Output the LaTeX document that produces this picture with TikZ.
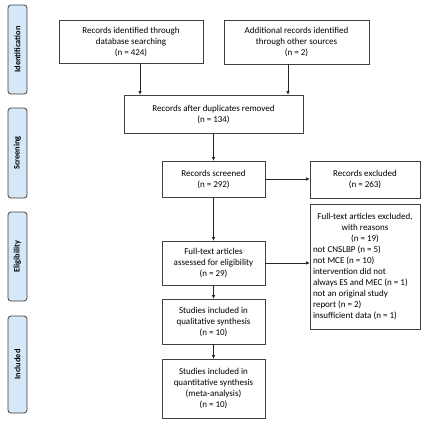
\documentclass[tikz,border=0pt]{standalone}
\usepackage{fontspec}
\setmainfont{Carlito}
\usetikzlibrary{arrows.meta}
\definecolor{phase}{HTML}{D4E8F8}
\definecolor{boxline}{HTML}{404040}
\begin{document}
\begin{tikzpicture}[x=1pt,y=-1pt,
  box/.style={draw=boxline,line width=0.8pt,fill=white,align=center,font=\fontsize{9}{11}\selectfont,inner sep=2pt},
  phasebox/.style={draw=boxline,line width=0.8pt,fill=phase,rounded corners=3pt,minimum width=19pt,font=\bfseries\fontsize{8.4}{9}\selectfont},
  arr/.style={-{Triangle[length=3.5pt,width=3pt]},line width=0.7pt,draw=black!85}]
\useasboundingbox (0,0) rectangle (438,423);
% phase labels
\node[phasebox,minimum height=89pt] (pid) at (17.5,49.5) {\rotatebox{90}{Identification}};
\node[phasebox,minimum height=90pt] (psc) at (17.5,153) {\rotatebox{90}{Screening}};
\node[phasebox,minimum height=89pt] (pel) at (17.5,256.5) {\rotatebox{90}{Eligibility}};
\node[phasebox,minimum height=97pt] (pin) at (17.5,364.5) {\rotatebox{90}{Included}};
% boxes
\node[box,minimum width=144pt,minimum height=43pt] (b1) at (131,41.5) {Records identified through\\database searching\\(n = 424)};
\node[box,minimum width=145pt,minimum height=44pt] (b2) at (296.5,42) {Additional records identified\\through other sources\\(n = 2)};
\node[box,minimum width=179pt,minimum height=38pt] (b3) at (213.5,114) {Records after duplicates removed\\(n = 134)};
\node[box,minimum width=103pt,minimum height=36pt] (b4) at (213.5,179) {Records screened\\(n = 292)};
\node[box,minimum width=110pt,minimum height=37pt] (b5) at (365,179.5) {Records excluded\\(n = 263)};
\node[box,minimum width=103pt,minimum height=44pt] (b6) at (213.5,263) {Full-text articles\\assessed for eligibility\\(n = 29)};
\node[box,minimum width=110pt,minimum height=125pt] (b7) at (365,266.5) {\begin{minipage}{104pt}\centering Full-text articles excluded,\\with reasons\\(n = 19)\par\raggedright not CNSLBP (n = 5)\\not MCE (n = 10)\\intervention did not\\always ES and MEC (n = 1)\\not an original study\\report (n = 2)\\insufficient data (n = 1)\end{minipage}};
\node[box,minimum width=103pt,minimum height=45pt] (b8) at (213.5,321.5) {Studies included in\\qualitative synthesis\\(n = 10)};
\node[box,minimum width=103pt,minimum height=59pt] (b9) at (213.5,388.5) {Studies included in\\quantitative synthesis\\(meta-analysis)\\(n = 10)};
% arrows
\draw[arr] ([xshift=9pt]b1.south) -- ([xshift=9pt]b1.south |- b3.north);
\draw[arr] ([xshift=-8.5pt]b2.south) -- ([xshift=-8.5pt]b2.south |- b3.north);
\draw[arr] (b3.south) -- (b4.north);
\draw[arr] (b4.east) -- (b4.east -| b5.west);
\draw[arr] (b4.south) -- (b6.north);
\draw[arr] (b6.east) -- (b6.east -| b7.west);
\draw[arr] (b6.south) -- (b8.north);
\draw[arr] (b8.south) -- (b9.north);
\end{tikzpicture}
\end{document}
